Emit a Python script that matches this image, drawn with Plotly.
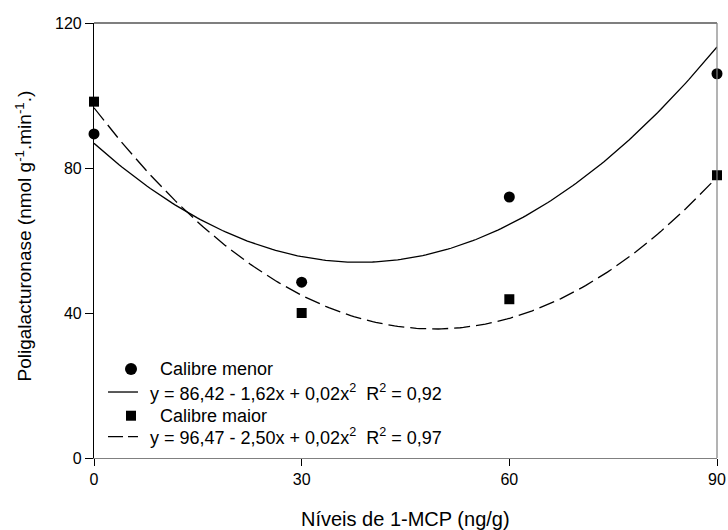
import numpy as np
import plotly.graph_objects as go

# Data
niveis = [0, 30, 60, 90]
calibre_menor = [89.4, 48.5, 72.0, 106.0]
calibre_maior = [98.3, 40.0, 43.8, 78.0]

# Fitted quadratic trend coefficients (a, b, c) as drawn
coef_menor = [86.8, -1.71, 0.02228]
coef_maior = [96.6, -2.48, 0.0252]

eq_menor = "y = 86,42 - 1,62x + 0,02x<sup>2</sup>  R<sup>2</sup> = 0,92"
eq_maior = "y = 96,47 - 2,50x + 0,02x<sup>2</sup>  R<sup>2</sup> = 0,97"

x_ticks = [0, 30, 60, 90]
y_ticks = [0, 40, 80, 120]

x_title = "Níveis de 1-MCP (ng/g)"
y_title = "Poligalacturonase (nmol g<sup>-1</sup>.min<sup>-1</sup>.)"

FONT = "Arial, Liberation Sans, sans-serif"

xs = np.linspace(0, 90, 200)
def quad(c, x):
    return c[0] + c[1] * x + c[2] * x ** 2

fig = go.Figure()
fig.add_trace(go.Scatter(x=xs, y=quad(coef_menor, xs), mode="lines",
                         line=dict(color="black", width=1.3), showlegend=False,
                         cliponaxis=False))
fig.add_trace(go.Scatter(x=xs, y=quad(coef_maior, xs), mode="lines",
                         line=dict(color="black", width=1.3, dash="16px,6px"),
                         showlegend=False, cliponaxis=False))
fig.add_trace(go.Scatter(x=niveis, y=calibre_menor, mode="markers",
                         marker=dict(symbol="circle", size=11, color="black"),
                         showlegend=False, cliponaxis=False))
fig.add_trace(go.Scatter(x=niveis, y=calibre_maior, mode="markers",
                         marker=dict(symbol="square", size=10, color="black"),
                         showlegend=False, cliponaxis=False))

# Manual legend (paper coordinates)
rows = [0.2046, 0.1517, 0.0972, 0.049]
mx = 0.0594
shapes = [
    dict(type="circle", xref="paper", yref="paper", xsizemode="pixel", ysizemode="pixel",
         xanchor=mx, yanchor=rows[0], x0=-6, x1=6, y0=-6, y1=6,
         fillcolor="black", line=dict(width=0)),
    dict(type="line", xref="paper", yref="paper", x0=0.0225, x1=0.0706, y0=rows[1], y1=rows[1],
         line=dict(color="black", width=1.3)),
    dict(type="rect", xref="paper", yref="paper", xsizemode="pixel", ysizemode="pixel",
         xanchor=mx, yanchor=rows[2], x0=-5, x1=5, y0=-5, y1=5,
         fillcolor="black", line=dict(width=0)),
    dict(type="line", xref="paper", yref="paper", x0=0.0225, x1=0.0706, y0=rows[3], y1=rows[3],
         line=dict(color="black", width=1.3, dash="15px,5px")),
    # frame: top (black) and right (gray)
    dict(type="line", xref="paper", yref="paper", x0=0, x1=1, y0=1, y1=1,
         line=dict(color="black", width=1.2)),
    dict(type="line", xref="paper", yref="paper", x0=1, x1=1, y0=0, y1=1,
         line=dict(color="#808080", width=1.2)),
]
annotations = [
    dict(xref="paper", yref="paper", x=0.1027, y=rows[0], text="Calibre menor",
         showarrow=False, xanchor="left", yanchor="middle"),
    dict(xref="paper", yref="paper", x=0.0867, y=rows[1], text=eq_menor,
         showarrow=False, xanchor="left", yanchor="middle"),
    dict(xref="paper", yref="paper", x=0.1027, y=rows[2], text="Calibre maior",
         showarrow=False, xanchor="left", yanchor="middle"),
    dict(xref="paper", yref="paper", x=0.0867, y=rows[3], text=eq_maior,
         showarrow=False, xanchor="left", yanchor="middle"),
]
for a in annotations:
    a["font"] = dict(family=FONT, size=18, color="black")

# Axis titles as annotations (pixel placement relative to plot area)
annotations.append(dict(xref="paper", yref="paper", x=(405.5 - 94) / 623, y=0,
                        yshift=-61, text=x_title, showarrow=False,
                        xanchor="center", yanchor="middle",
                        font=dict(family=FONT, size=20, color="black")))
annotations.append(dict(xref="paper", yref="paper", x=0, xshift=-70,
                        y=(458 - 236.5) / 435, text=y_title, showarrow=False,
                        textangle=-90, xanchor="center", yanchor="middle",
                        font=dict(family=FONT, size=19, color="black")))

fig.update_layout(
    width=728, height=530,
    margin=dict(l=94, r=11, t=23, b=72, autoexpand=False),
    paper_bgcolor="white", plot_bgcolor="white",
    font=dict(family=FONT, color="black", size=16),
    shapes=shapes, annotations=annotations,
    showlegend=False,
    xaxis=dict(range=[0, 90], tickvals=x_ticks, ticktext=[str(v) for v in x_ticks],
               showgrid=False, zeroline=False, showline=True, linecolor="#808080",
               linewidth=1.2, ticks="outside", ticklen=7, tickcolor="black",
               tickfont=dict(size=16), automargin=False),
    yaxis=dict(range=[0, 120], tickvals=y_ticks, ticktext=[str(v) for v in y_ticks],
               showgrid=False, zeroline=False, showline=True, linecolor="black",
               linewidth=1.2, ticks="outside", ticklen=8, tickcolor="black",
               tickfont=dict(size=16), automargin=False),
)

fig.write_html("out.html", config={"displayModeBar": False},
               post_script="document.body.style.margin='0';document.body.style.overflow='hidden';")
